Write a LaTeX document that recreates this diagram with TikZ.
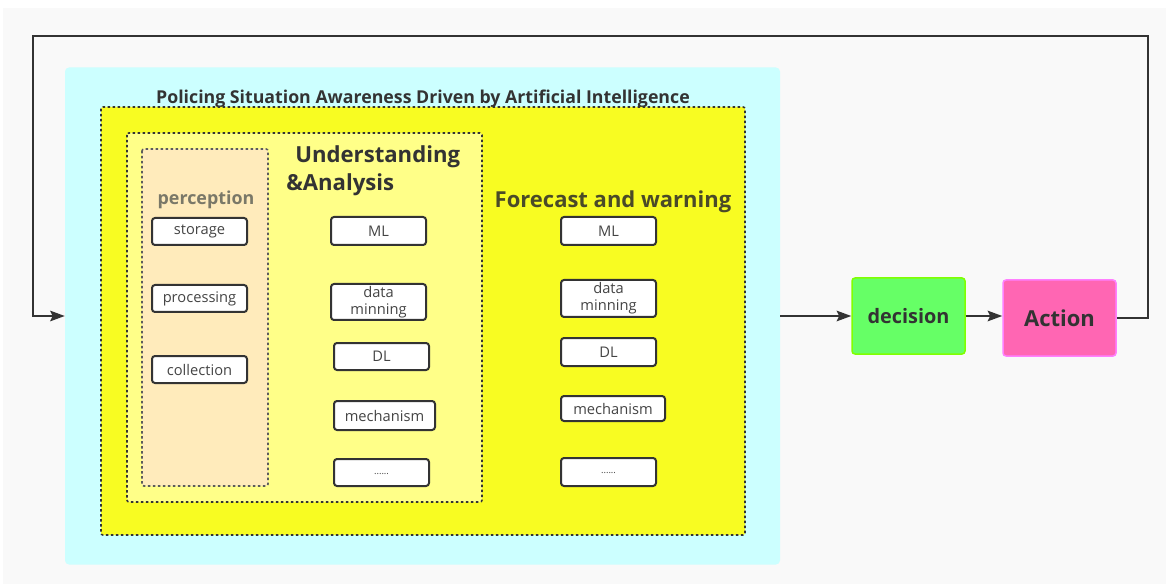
\documentclass[tikz,border=0pt]{standalone}
\usepackage{fontspec}
\setmainfont{Open Sans}
\usetikzlibrary{arrows.meta}
\definecolor{bgc}{HTML}{F9F9F9}
\definecolor{cyanc}{HTML}{CCFFFF}
\definecolor{yel}{HTML}{F8FC22}
\definecolor{lyel}{HTML}{FFFF88}
\definecolor{perc}{HTML}{FFEBBB}
\definecolor{txt}{HTML}{333333}
\definecolor{boxtxt}{HTML}{444444}
\definecolor{percl}{HTML}{7A7868}
\definecolor{fcl}{HTML}{4A4A28}
\definecolor{decf}{HTML}{66FF66}
\definecolor{decb}{HTML}{80FF00}
\definecolor{actf}{HTML}{FF66B3}
\definecolor{actb}{HTML}{FF80FF}
\def\px{0.75pt}
\tikzset{
  sbox/.style={draw=txt, line width=2*\px, fill=white, rounded corners=3*\px,
    text=boxtxt, font=\fontsize{11}{11}\selectfont, inner sep=0pt, align=center},
  dotbox/.style={draw=txt, line width=1.6*\px, dash pattern=on 2.5*\px off 2.5*\px, rounded corners=2*\px},
  conn/.style={draw=txt, line width=1.6*\px, -{Stealth[length=11pt,width=8pt,inset=2pt]}},
  bigbold/.style={font=\fontsize{16.6}{21}\selectfont\bfseries}
}
\begin{document}
\begin{tikzpicture}[x=0.75pt,y=-0.75pt]
\useasboundingbox (0,0) rectangle (1166,584);
\fill[white] (0,0) rectangle (1166,584);
\fill[bgc] (3,8) rectangle (1166,584);
% cyan container
\node[fill=cyanc, rounded corners=4*\px, minimum width=715*\px, minimum height=497*\px, inner sep=0pt] (cyan) at (422.5,316) {};
\node[text=txt, font=\fontsize{13.3}{14}\selectfont\bfseries] (title) at (423,99) {Policing Situation Awareness Driven by Artificial Intelligence};
% yellow
\draw[dotbox, fill=yel] (101,107) rectangle (745,535);
\draw[dotbox, fill=lyel] (127,133) rectangle (482,502);
\draw[dotbox, fill=perc, draw=txt!80] (142,149) rectangle (268,486);
\node[text=percl, font=\fontsize{13.4}{14}\selectfont\bfseries] (perlab) at (206,200) {perception};
\node[text=txt, bigbold, align=left, anchor=north west, inner sep=0pt] (ua) at (286,145) {\hspace{6.8pt}Understanding\\\&Analysis};
\node[text=fcl, font=\fontsize{16.5}{18}\selectfont\bfseries] (fw) at (613,202) {Forecast and warning};
% perception boxes
\node[sbox, minimum width=95*\px, minimum height=27*\px] (storage) at (199.5,231.5) {storage};
\node[sbox, minimum width=95*\px, minimum height=27*\px] (processing) at (199.5,298.5) {processing};
\node[sbox, minimum width=95*\px, minimum height=27*\px] (collection) at (199.5,369.5) {collection};
% understanding boxes
\node[sbox, minimum width=95*\px, minimum height=28*\px] (ml1) at (378.5,231) {ML};
\node[sbox, minimum width=95*\px, minimum height=36*\px, font=\fontsize{11}{12.5}\selectfont] (dm1) at (378.5,302) {data\\minning};
\node[sbox, minimum width=95*\px, minimum height=27*\px] (dl1) at (381.5,356.5) {DL};
\node[sbox, minimum width=101*\px, minimum height=29*\px] (mech1) at (384.5,415.5) {mechanism};
\node[sbox, minimum width=95*\px, minimum height=27*\px] (dots1) at (381.5,472.5) {\raisebox{-3pt}{\fontsize{7}{7}\selectfont ......}};
% forecast boxes
\node[sbox, minimum width=95*\px, minimum height=28*\px] (ml2) at (608.5,231) {ML};
\node[sbox, minimum width=95*\px, minimum height=37*\px, font=\fontsize{11}{12.5}\selectfont] (dm2) at (608.5,298.5) {data\\minning};
\node[sbox, minimum width=95*\px, minimum height=28*\px] (dl2) at (608.5,352) {DL};
\node[sbox, minimum width=104*\px, minimum height=25*\px] (mech2) at (613,408.5) {mechanism};
\node[sbox, minimum width=95*\px, minimum height=28*\px] (dots2) at (608.5,472) {\raisebox{-3pt}{\fontsize{7}{7}\selectfont ......}};
% decision and action
\node[fill=decf, draw=decb, line width=1.5*\px, rounded corners=3*\px, minimum width=113*\px, minimum height=76*\px, text=txt, font=\fontsize{14.9}{15}\selectfont\bfseries] (decision) at (908.5,316) {decision};
\node[fill=actf, draw=actb, line width=1.5*\px, rounded corners=3*\px, minimum width=113*\px, minimum height=76*\px, text=txt, font=\fontsize{16.5}{17}\selectfont\bfseries] (action) at (1059.5,318) {Action};
% connectors
\draw[conn] (cyan.east) -- (decision.west);
\draw[conn] (decision.east) -- (decision.east -| action.west);
\coordinate (c1) at (1148,36);
\coordinate (c2) at (33,36);
\draw[conn] (action.east) -| (c1) -- (c2) |- (cyan.west);
\end{tikzpicture}
\end{document}
